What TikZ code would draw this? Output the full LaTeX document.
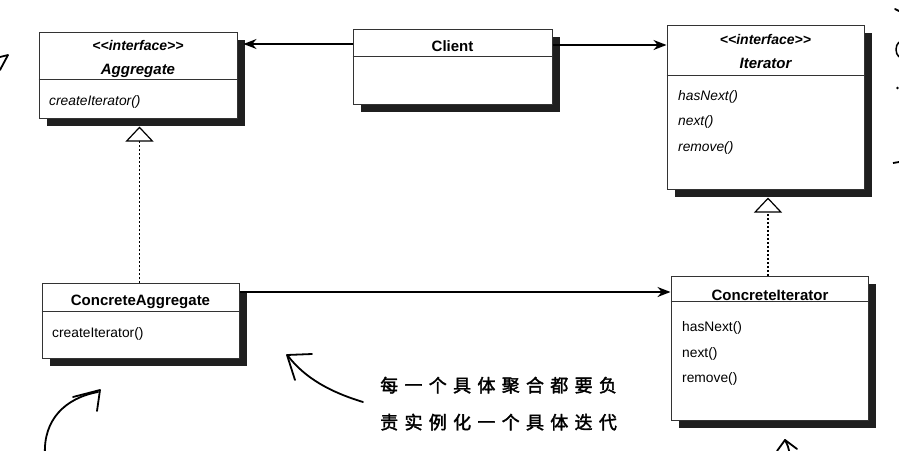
\documentclass[tikz,border=0pt]{standalone}
\usepackage{fontspec}
\setmainfont{Liberation Sans}
\newfontfamily\cjk[FakeBold=2]{Noto Sans CJK SC}
\usetikzlibrary{arrows.meta,shadows}
\newcommand\cjkgap{\hspace{6.3pt}}
\begin{document}
\begin{tikzpicture}[x=1pt,y=-1pt,
  umlbox/.style={draw=black!80, line width=1pt, fill=white, inner sep=0pt,
    drop shadow={shadow xshift=8pt,shadow yshift=-8pt,fill=black!88,opacity=1}},
  div/.style={draw=black!80,line width=1pt},
  ttl/.style={anchor=base, inner sep=0pt, font=\fontsize{15}{17}\selectfont\bfseries},
  ttli/.style={anchor=base, inner sep=0pt, font=\fontsize{15}{17}\selectfont\bfseries\itshape},
  stereo/.style={anchor=base, inner sep=0pt, font=\fontsize{14}{16}\selectfont\bfseries\itshape},
  meth/.style={anchor=base west, inner sep=0pt, font=\fontsize{13.8}{16}\selectfont},
  methi/.style={anchor=base west, inner sep=0pt, font=\fontsize{13.8}{16}\selectfont\itshape},
  assoc/.style={line width=1.6pt, -{Stealth[length=13pt,width=10pt]}},
  realize/.style={line width=1.2pt, dash pattern=on 1.5pt off 2.5pt,
    -{Triangle[open,length=15pt,width=28pt,fill=white,line width=1.2pt]}},
  hand/.style={line width=1.8pt, line cap=round, line join=round},
  note/.style={anchor=base west, inner sep=0pt, font=\cjk\fontsize{18}{20}\selectfont},
]
\fill[white] (0,0) rectangle (899,450);
\useasboundingbox (0,0) rectangle (899,450);

% boxes
\node[umlbox, minimum width=198pt, minimum height=86pt] (agg) at (138,75) {};
\node[umlbox, minimum width=199pt, minimum height=75pt] (cl) at (452.5,66.5) {};
\node[umlbox, minimum width=197pt, minimum height=164pt] (it) at (765.5,107) {};
\node[umlbox, minimum width=197pt, minimum height=75pt] (ca) at (140.5,320.5) {};
\node[umlbox, minimum width=197pt, minimum height=144pt] (ci) at (769.5,348) {};

% dividers
\draw[div] ([yshift=-48pt]agg.north west) -- ([yshift=-48pt]agg.north east);
\draw[div] ([yshift=-28pt]cl.north west) -- ([yshift=-28pt]cl.north east);
\draw[div] ([yshift=-51pt]it.north west) -- ([yshift=-51pt]it.north east);
\draw[div] ([yshift=-29pt]ca.north west) -- ([yshift=-29pt]ca.north east);
\draw[div] ([yshift=-26pt]ci.north west) -- ([yshift=-26pt]ci.north east);

% texts
\node[stereo] (aggst) at (138,50) {<{}<interface>{}>};
\node[ttli] (aggname) at (138,74) {Aggregate};
\node[methi] (aggm) at (49,105) {createIterator()};

\node[ttl] (clname) at (452.5,51) {Client};

\node[stereo] (itst) at (765.5,44) {<{}<interface>{}>};
\node[ttli] (itname) at (765.5,68) {Iterator};
\node[methi] (itm1) at (678,100) {hasNext()};
\node[methi] (itm2) at (678,125) {next()};
\node[methi] (itm3) at (678,151) {remove()};

\node[ttl] (caname) at (140.5,305) {ConcreteAggregate};
\node[meth] (cam) at (52,337) {createIterator()};

\node[ttl] (ciname) at (770,300) {ConcreteIterator};
\node[meth] (cim1) at (682,331) {hasNext()};
\node[meth] (cim2) at (682,357) {next()};
\node[meth] (cim3) at (682,382) {remove()};

% connectors
\draw[assoc] ([yshift=22.5pt]cl.west) -- ([xshift=6pt,yshift=31pt]agg.east);
\draw[assoc] ([yshift=21.5pt]cl.east) -- ([yshift=62pt]it.west);
\draw[assoc] ([yshift=28.5pt]ca.east) -- ([yshift=56pt]ci.west);
\draw[realize] ([xshift=-1pt]ca.north) -- ([xshift=1.5pt,yshift=-8pt]agg.south);
\draw[realize] ([xshift=-1.5pt]ci.north) -- ([xshift=2.5pt,yshift=-8pt]it.south);

% note
\node[note] (note1) at (380,392) {每\cjkgap 一\cjkgap 个\cjkgap 具\cjkgap 体\cjkgap 聚\cjkgap 合\cjkgap 都\cjkgap 要\cjkgap 负};
\node[note] (note2) at (380,429) {责\cjkgap 实\cjkgap 例\cjkgap 化\cjkgap 一\cjkgap 个\cjkgap 具\cjkgap 体\cjkgap 迭\cjkgap 代};

% hand-drawn arrows
\draw[hand] (363,402) .. controls (330,392) and (305,378) .. (288,356);
\draw[hand] (312,354) -- (287,355) -- (295,380);
\draw[hand] (45,455) .. controls (43,420) and (65,398) .. (98,392);
\draw[hand] (73,397) -- (100,390) -- (97,411);
\draw[hand] (0,57) -- (8,55) -- (0,70);
\draw[hand] (777,451) -- (785,440) -- (797,449);
\draw[hand] (785,440) .. controls (788,446) .. (790,455);

% clipped marks at right edge
\draw[hand] (895,9) -- (899,11);
\draw[line width=1.5pt] (899,42) .. controls (895,46) and (895,53) .. (899,57);
\fill (897.5,88) circle (1.3);
\draw[line width=1.8pt] (893,163) -- (899,162);
\end{tikzpicture}
\end{document}
